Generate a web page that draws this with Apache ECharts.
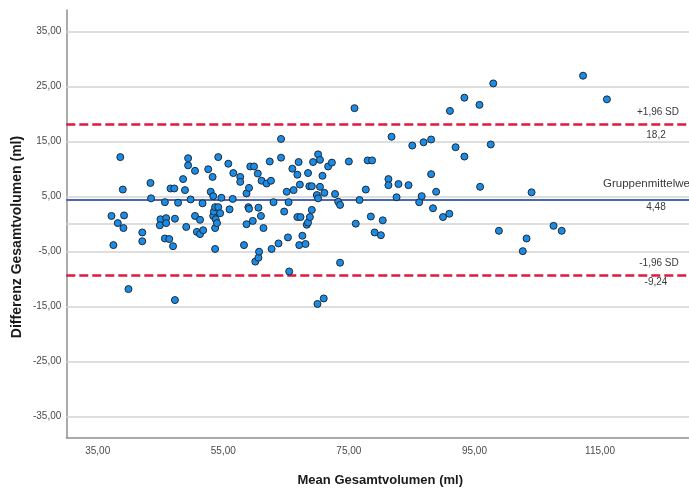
<!DOCTYPE html>
<html>
<head>
<meta charset="utf-8">
<script src="https://cdn.jsdelivr.net/npm/echarts@6/dist/echarts.min.js"></script>
<style>
  html, body { margin: 0; padding: 0; background: #ffffff; }
  #chart { width: 689px; height: 488px; }
</style>
</head>
<body>
<div id="chart"></div>
<script>
// Bland-Altman: mean of both measurements (x) against their difference (y)
const meanValues = [
  37.2, 37.5, 38.2, 38.6, 39.0, 39.1, 39.2, 39.9, 42.1, 42.1, 43.4, 43.5,
  45.0, 44.9, 45.7, 45.7, 45.9, 45.9, 46.4, 46.6, 47.0, 47.2, 47.3, 47.3,
  47.8, 48.6, 48.9, 49.1, 49.4, 49.4, 49.8, 50.5, 50.5, 50.8, 51.3, 51.3,
  51.7, 51.8, 52.6, 53.0, 53.3, 53.4, 53.4, 53.5, 53.7, 53.7, 53.7, 53.8,
  54.0, 54.2, 54.2, 54.5, 54.7, 55.8, 56.0, 56.5, 56.6, 57.7, 57.7, 58.3,
  58.7, 58.7, 59.0, 59.1, 59.1, 59.3, 59.7, 59.9, 60.1, 60.5, 60.6, 60.6,
  60.7, 61.0, 61.1, 61.4, 61.9, 62.4, 62.6, 62.7, 63.0, 63.8, 64.2, 64.2,
  64.7, 65.1, 65.3, 65.4, 65.5, 66.0, 66.2, 66.8, 66.8, 67.0, 67.1, 67.2,
  67.3, 67.6, 68.1, 68.3, 68.5, 68.5, 68.7, 68.8, 69.1, 69.1, 69.3, 69.9,
  70.0, 70.1, 70.1, 70.4, 70.4, 70.8, 71.1, 71.0, 71.7, 72.3, 72.8, 73.3,
  73.6, 73.6, 75.0, 75.9, 76.1, 76.7, 77.7, 78.0, 78.5, 78.7, 79.1, 80.1,
  80.4, 81.3, 81.3, 81.8, 82.6, 82.9, 84.5, 85.1, 86.2, 86.6, 86.9, 88.1,
  88.1, 88.4, 88.9, 90.0, 91.0, 91.1, 92.0, 93.4, 93.4, 95.8, 95.9, 97.6,
  98.0, 98.9, 102.7, 103.3, 104.1, 107.6, 108.9, 112.3, 116.1
];
const diffValues = [
  1.5, -3.8, 0.2, 12.2, 6.3, -0.7, 1.6, -11.8, -1.5, -3.1, 7.5, 4.7,
  0.9, -0.2, 4.0, -2.6, 1.1, 0.2, -2.7, 6.5, -4.0, 6.5, 1.0, -13.8,
  3.9, 8.2, 6.2, -0.5, 12.0, 10.7, 4.5, 9.7, 1.5, -1.4, 0.8, -1.8,
  3.8, -1.1, 10.0, 5.9, 8.6, 5.1, 1.5, 2.3, 3.1, -0.7, -4.5, 0.9,
  0.2, 12.2, 3.1, 2.0, 4.8, 11.0, 2.7, 4.6, 9.3, 8.6, 7.7, -3.8,
  5.6, 0.0, 3.1, 2.8, 6.6, 10.5, 0.6, 10.5, -6.8, 9.2, 3.0, -6.1,
  -5.0, 1.5, 7.9, -0.7, 7.4, 11.4, 7.9, -4.5, 4.0, -3.5, 15.5, 12.1,
  2.3, 5.9, -2.4, 4.0, -8.6, 10.1, 6.2, 9.0, 1.3, 11.3, -3.8, 7.2,
  1.3, -2.1, -3.6, -0.1, 9.3, 0.3, 6.9, 1.3, 6.9, 2.6, 11.3, 5.3,
  -14.5, 12.7, 4.7, 11.7, 6.8, 8.8, 5.7, -13.5, 10.5, 11.2, 5.5, 4.1,
  3.5, -7.0, 11.4, 21.1, 0.1, 4.4, 6.3, 11.6, 1.4, 11.6, -1.5, -2.0,
  0.7, 8.2, 7.1, 15.9, 4.9, 7.3, 7.1, 14.3, 4.0, 5.1, 14.9, 15.4,
  9.1, 2.9, 5.9, 1.3, 1.9, 20.6, 14.0, 23.0, 12.3, 21.7, 6.8, 14.5,
  25.6, -1.2, -4.9, -2.6, 5.8, -0.3, -1.2, 27.0, 22.7
];

const xTickValues = [35, 55, 75, 95, 115];
const yTickValues = [-35, -25, -15, -5, 5, 15, 25, 35];
const gridValues = [-35, -25, -15, -5, 0, 5, 15, 25, 35];

// Limits of agreement and mean difference
const upperLimit = 18.2;
const meanDiff = 4.48;
const lowerLimit = -9.24;

const xAxisTitle = 'Mean Gesamtvolumen (ml)';
const yAxisTitle = 'Differenz Gesamtvolumen (ml)';

const decimalComma = v => String(v).replace('.', ',');
const fmt2 = v => decimalComma(Number(v).toFixed(2));

const points = meanValues.map((m, i) => [m, diffValues[i]]);

const chart = echarts.init(document.getElementById('chart'), null, { renderer: 'canvas' });

const labelFont = "'Liberation Sans', Arial, sans-serif";

chart.setOption({
  animation: false,
  backgroundColor: '#ffffff',
  grid: {
    left: 66.3, right: -5.2, top: 10, bottom: 50.7,
    containLabel: false, outerBoundsMode: 'none'
  },
  xAxis: {
    type: 'value',
    min: 30, max: 130,
    axisLine: { show: true, onZero: false, lineStyle: { color: '#8f8f8f', width: 1.5 } },
    axisTick: { show: false },
    splitLine: { show: false },
    axisLabel: {
      customValues: xTickValues,
      formatter: fmt2,
      color: '#4a4a4a', fontSize: 10, fontFamily: labelFont, margin: 9
    }
  },
  yAxis: {
    type: 'value',
    min: -38.75, max: 38.95,
    axisLine: { show: true, onZero: false, lineStyle: { color: '#8f8f8f', width: 1.5 } },
    axisTick: { show: false },
    splitLine: { show: false },
    axisLabel: {
      customValues: yTickValues,
      formatter: fmt2,
      color: '#4a4a4a', fontSize: 10, fontFamily: labelFont, margin: 5
    }
  },
  series: [
    {
      // horizontal grid lines
      type: 'scatter',
      data: [],
      z: 1,
      silent: true,
      markLine: {
        silent: true,
        symbol: 'none',
        label: { show: false },
        lineStyle: { color: '#d3d3d3', width: 1.5, type: 'solid' },
        data: gridValues.map(v => ({ yAxis: v }))
      }
    },
    {
      // mean difference and limits of agreement
      type: 'scatter',
      data: [],
      z: 2,
      silent: true,
      markLine: {
        silent: true,
        symbol: 'none',
        label: { show: false },
        data: [
          { yAxis: upperLimit, lineStyle: { color: '#e0193f', width: 2.5, type: [9, 4] } },
          { yAxis: meanDiff, lineStyle: { color: '#4a66b5', width: 2, type: 'solid' } },
          { yAxis: lowerLimit, lineStyle: { color: '#e0193f', width: 2.5, type: [9, 4] } }
        ]
      }
    },
    {
      type: 'scatter',
      data: points,
      z: 5,
      symbol: 'circle',
      symbolSize: 7,
      itemStyle: { color: '#1a8ce6', borderColor: '#1e2a38', borderWidth: 1, opacity: 1 }
    }
  ]
});

// Line captions and axis titles, placed through the axis scales
const yPix = v => chart.convertToPixel({ yAxisIndex: 0 }, v);
const captionStyle = (text, x, y, align, size) => ({
  type: 'text', x, y, silent: true, z: 10,
  style: {
    text, fill: '#3a3a3a', font: size + "px " + labelFont,
    textAlign: align, textVerticalAlign: 'middle'
  }
});

const plotBottom = yPix(-38.75);
const leftEdge = chart.convertToPixel({ xAxisIndex: 0 }, 30);
const rightEdge = chart.convertToPixel({ xAxisIndex: 0 }, 130);

chart.setOption({
  graphic: [
    captionStyle('+1,96 SD', 658, yPix(upperLimit) - 12, 'center', 10),
    captionStyle(decimalComma(upperLimit), 656, yPix(upperLimit) + 11, 'center', 10),
    captionStyle('Gruppenmittelwert', 603, yPix(meanDiff) - 16, 'left', 11.5),
    captionStyle(decimalComma(meanDiff), 656, yPix(meanDiff) + 8, 'center', 10),
    captionStyle('-1,96 SD', 659, yPix(lowerLimit) - 12, 'center', 10),
    captionStyle(decimalComma(lowerLimit), 656, yPix(lowerLimit) + 7, 'center', 10),
    {
      type: 'text', x: (leftEdge + rightEdge) / 2, y: plotBottom + 43, silent: true,
      style: {
        text: xAxisTitle, fill: '#1a1a1a', font: "bold 13px " + labelFont,
        textAlign: 'center', textVerticalAlign: 'middle'
      }
    },
    {
      type: 'text', x: 17, y: 237, rotation: Math.PI / 2, silent: true,
      style: {
        text: yAxisTitle, fill: '#1a1a1a', font: "bold 14px " + labelFont,
        textAlign: 'center', textVerticalAlign: 'middle'
      }
    }
  ]
});
</script>
</body>
</html>
